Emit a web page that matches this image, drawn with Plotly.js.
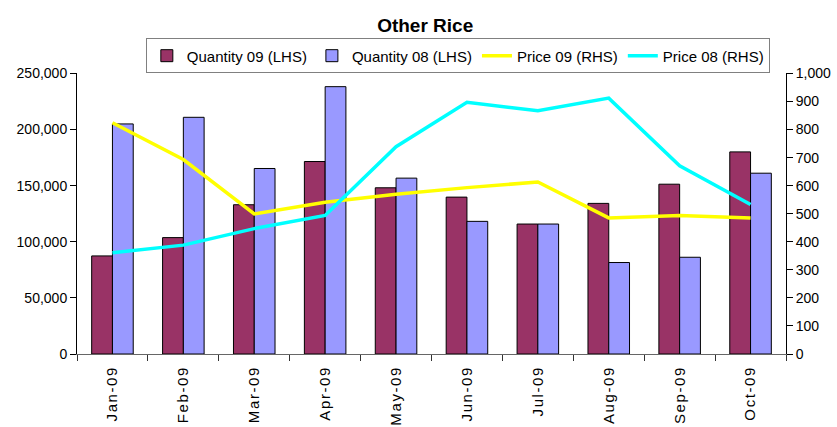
<!DOCTYPE html>
<html>
<head>
<meta charset="utf-8">
<script src="https://cdn.plot.ly/plotly-3.0.1.min.js"></script>
<style>html,body{margin:0;padding:0;background:#fff;}#chart{width:837px;height:427px;}
.xtick text{letter-spacing:1.6px;}</style>
</head>
<body>
<div id="chart"></div>
<script>
const months = ["Jan-09","Feb-09","Mar-09","Apr-09","May-09","Jun-09","Jul-09","Aug-09","Sep-09","Oct-09"];
const quantity09 = [87400, 103700, 133000, 171500, 148100, 139800, 115800, 134200, 151300, 180100];
const quantity08 = [205000, 210900, 165300, 238200, 156700, 118200, 115800, 81500, 86200, 161100];
const price09 = [824, 693, 499, 541, 569, 593, 613, 485, 494, 485];
const price08 = [361, 388, 447, 494, 739, 897, 867, 912, 671, 533];

const font = "Liberation Sans, Arial, sans-serif";
const traces = [
  {type:"bar", name:"Quantity 09 (LHS)", x:months, y:quantity09, yaxis:"y",
   marker:{color:"#993366", line:{color:"#000", width:1}}},
  {type:"bar", name:"Quantity 08 (LHS)", x:months, y:quantity08, yaxis:"y",
   marker:{color:"#9999FF", line:{color:"#000", width:1}}},
  {type:"scatter", mode:"lines", name:"Price 09 (RHS)", x:months, y:price09, yaxis:"y2",
   line:{color:"#FFFF00", width:3.5}},
  {type:"scatter", mode:"lines", name:"Price 08 (RHS)", x:months, y:price08, yaxis:"y2",
   line:{color:"#00FFFF", width:3.5}}
];
const layout = {
  width:837, height:427,
  margin:{l:77, r:51, t:73, b:73},
  paper_bgcolor:"#fff", plot_bgcolor:"#fff",
  font:{family:font, size:14, color:"#000"},
  title:{text:"<b>Other Rice</b>", font:{family:font, size:19, color:"#000"},
         x:0.508, xref:"container", xanchor:"center", y:0.941, yref:"container", yanchor:"middle"},
  barmode:"group", bargap:0.414, bargroupgap:0,
  showlegend:true,
  legend:{orientation:"h", x:0.547, xanchor:"center", xref:"container", y:0.91, yref:"container", yanchor:"top",
          bordercolor:"#808080", borderwidth:1, font:{family:font, size:15, color:"#000"},
          traceorder:"normal", itemwidth:30},
  xaxis:{type:"category", range:[-0.5, 9.5], tickson:"boundaries", ticks:"outside", ticklen:6,
         tickcolor:"#333", showline:true, linecolor:"#666", linewidth:1, showgrid:false, zeroline:false,
         tickangle:-90, ticklabelstandoff:5, tickfont:{family:font, size:15, color:"#000"}},
  yaxis:{range:[0, 250000], dtick:50000, tickformat:",", ticks:"outside", ticklen:6, tickcolor:"#000",
         showline:true, linecolor:"#000", linewidth:1, showgrid:false, zeroline:false,
         tickfont:{family:font, size:14, color:"#000"}},
  yaxis2:{overlaying:"y", side:"right", range:[0, 1000], dtick:100, tickformat:",", ticks:"outside", ticklen:6,
          tickcolor:"#000", showline:true, linecolor:"#000", linewidth:1, showgrid:false, zeroline:false,
          tickfont:{family:font, size:14, color:"#000"}}
};
Plotly.newPlot("chart", traces, layout, {displayModeBar:false, staticPlot:true});
</script>
</body>
</html>
